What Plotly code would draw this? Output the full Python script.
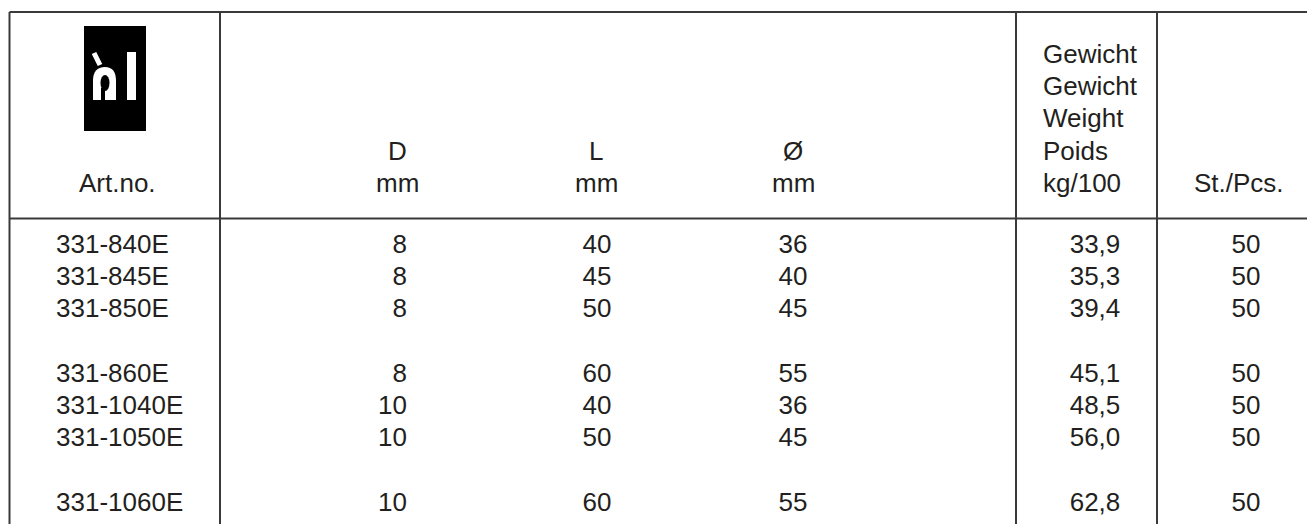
import plotly.graph_objects as go

# ---- data ----
art_no = ["331-840E", "331-845E", "331-850E", "331-860E", "331-1040E", "331-1050E", "331-1060E"]
group = [0, 0, 0, 1, 1, 1, 2]
d_mm = [8, 8, 8, 8, 10, 10, 10]
l_mm = [40, 45, 50, 60, 40, 50, 60]
dia_mm = [36, 40, 45, 55, 36, 45, 55]
weight = [33.9, 35.3, 39.4, 45.1, 48.5, 56.0, 62.8]
pcs = [50, 50, 50, 50, 50, 50, 50]

hdr_art = "Art.no."
hdr_d = ["D", "mm"]
hdr_l = ["L", "mm"]
hdr_dia = ["Ø", "mm"]
hdr_w = ["Gewicht", "Gewicht", "Weight", "Poids", "kg/100"]
hdr_pcs = "St./Pcs."

# ---- layout constants ----
W, H = 1315, 524
OFF = 8  # page body margin: data coords == page pixels
FONT = "Liberation Sans, Arial, Helvetica, sans-serif"
FS = 26
TXT = "#231f20"
LINE = "#3a3a3a"
ROW0, ROWH = 246, 32.3
HDR_BOTTOM = 183

slots = [i + g for i, g in enumerate(group)]
ys = [ROW0 + s * ROWH for s in slots]

fig = go.Figure()


def col(x, texts, pos):
    fig.add_trace(go.Scatter(
        x=[x] * len(texts), y=ys, text=texts, mode="text",
        textposition=pos, textfont=dict(family=FONT, size=FS, color=TXT),
        hoverinfo="skip", showlegend=False, cliponaxis=False))


col(56, art_no, "middle right")
col(407, [str(v) for v in d_mm], "middle left")
col(597, [str(v) for v in l_mm], "middle center")
col(793, [str(v) for v in dia_mm], "middle center")
col(1095, [f"{v:.1f}".replace(".", ",") for v in weight], "middle center")
col(1246, [str(v) for v in pcs], "middle center")

# ---- header annotations ----
ann = []


def hdr(x, lines, anchor):
    n = len(lines)
    for k, t in enumerate(lines):
        ann.append(dict(x=x, y=HDR_BOTTOM - (n - 1 - k) * ROWH, text=t, xref="x", yref="y",
                        showarrow=False, xanchor=anchor, yanchor="middle",
                        font=dict(family=FONT, size=FS, color=TXT)))


hdr(117, [hdr_art], "center")
hdr(397, hdr_d, "center")
hdr(596, hdr_l, "center")
hdr(793, hdr_dia, "center")
hdr(1041, hdr_w, "left")
hdr(1239, [hdr_pcs], "center")

# ---- grid lines ----
shapes = []
lw = 2
shapes.append(dict(type="line", x0=9.5, x1=W + 10, y0=12, y1=12, line=dict(color=LINE, width=lw)))
shapes.append(dict(type="line", x0=9.5, x1=W + 10, y0=218.5, y1=218.5, line=dict(color=LINE, width=lw)))
for xv in [9.5, 220, 1016, 1157]:
    shapes.append(dict(type="line", x0=xv, x1=xv, y0=12, y1=H + 20, line=dict(color=LINE, width=lw)))

# ---- logo ----
shapes.append(dict(type="rect", x0=84, x1=146, y0=26, y1=131, fillcolor="black", line=dict(width=0)))
shapes.append(dict(type="path", path="M 93 100 L 93 81 Q 93 67 105 67 Q 116 67 116 81 L 116 100 Z",
                   fillcolor="white", line=dict(width=0)))
shapes.append(dict(type="circle", x0=100.5, x1=109.5, y0=75, y1=91, fillcolor="black", line=dict(width=0)))
shapes.append(dict(type="rect", x0=101, x1=105, y0=88, y1=101, fillcolor="black", line=dict(width=0)))
shapes.append(dict(type="path", path="M 94 53 L 100 65", line=dict(color="white", width=5)))
shapes.append(dict(type="rect", x0=127, x1=136, y0=52, y1=100, fillcolor="white", line=dict(width=0)))

fig.update_layout(
    width=W - OFF, height=H - OFF, margin=dict(l=0, r=0, t=0, b=0),
    paper_bgcolor="white", plot_bgcolor="white",
    xaxis=dict(range=[OFF, W], visible=False, fixedrange=True),
    yaxis=dict(range=[H, OFF], visible=False, fixedrange=True),
    shapes=shapes, annotations=ann, showlegend=False,
)

fig.write_html("out.html", config={"displayModeBar": False})
